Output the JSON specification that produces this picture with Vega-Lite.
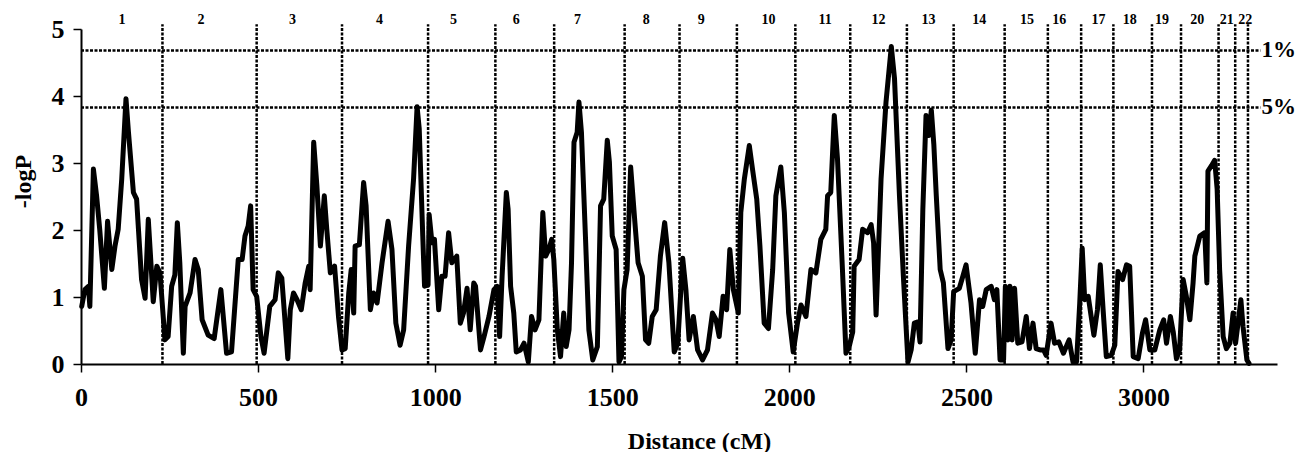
{
  "$schema": "https://vega.github.io/schema/vega-lite/v6.json",
  "width": 1196,
  "height": 335,
  "autosize": {"type": "none"},
  "padding": {"left": 81, "top": 29, "right": 21, "bottom": 88},
  "background": "white",
  "config": {"view": {"stroke": null}, "font": "Liberation Serif"},
  "datasets": {
    "curve": [
      {"cM":2,"logP":0.86},{"cM":11,"logP":1.11},{"cM":21,"logP":1.16},{"cM":25,"logP":0.86},{"cM":35,"logP":2.91},{"cM":44,"logP":2.51},{"cM":53,"logP":2.0},{"cM":66,"logP":1.13},{"cM":75,"logP":2.13},{"cM":87,"logP":1.41},{"cM":96,"logP":1.76},{"cM":105,"logP":2.01},{"cM":115,"logP":2.76},{"cM":127,"logP":3.96},{"cM":134,"logP":3.46},{"cM":148,"logP":2.56},{"cM":157,"logP":2.46},{"cM":171,"logP":1.26},{"cM":181,"logP":0.98},{"cM":190,"logP":2.16},{"cM":204,"logP":0.93},{"cM":214,"logP":1.46},{"cM":223,"logP":1.36},{"cM":237,"logP":0.36},{"cM":246,"logP":0.41},{"cM":256,"logP":1.16},{"cM":265,"logP":1.33},{"cM":272,"logP":2.11},{"cM":279,"logP":1.51},{"cM":289,"logP":0.16},{"cM":294,"logP":0.86},{"cM":308,"logP":1.06},{"cM":322,"logP":1.56},{"cM":331,"logP":1.41},{"cM":342,"logP":0.66},{"cM":359,"logP":0.43},{"cM":376,"logP":0.38},{"cM":395,"logP":1.11},{"cM":411,"logP":0.16},{"cM":425,"logP":0.18},{"cM":444,"logP":1.56},{"cM":455,"logP":1.56},{"cM":463,"logP":1.91},{"cM":472,"logP":2.06},{"cM":479,"logP":2.36},{"cM":486,"logP":1.11},{"cM":496,"logP":1.01},{"cM":508,"logP":0.41},{"cM":517,"logP":0.16},{"cM":533,"logP":0.86},{"cM":548,"logP":0.96},{"cM":557,"logP":1.36},
      {"cM":567,"logP":1.28},{"cM":584,"logP":0.08},{"cM":591,"logP":0.81},{"cM":600,"logP":1.06},{"cM":610,"logP":0.96},{"cM":622,"logP":0.81},{"cM":633,"logP":1.21},{"cM":643,"logP":1.46},{"cM":647,"logP":1.11},{"cM":657,"logP":3.31},{"cM":666,"logP":2.66},{"cM":676,"logP":1.76},{"cM":687,"logP":2.51},{"cM":694,"logP":2.01},{"cM":704,"logP":1.36},{"cM":716,"logP":1.46},{"cM":727,"logP":0.71},{"cM":737,"logP":0.21},{"cM":746,"logP":0.23},{"cM":756,"logP":1.06},{"cM":763,"logP":1.41},{"cM":770,"logP":0.76},{"cM":774,"logP":1.76},{"cM":786,"logP":1.78},{"cM":798,"logP":2.71},{"cM":805,"logP":2.36},{"cM":817,"logP":0.81},{"cM":826,"logP":1.06},{"cM":836,"logP":0.91},{"cM":850,"logP":1.51},{"cM":867,"logP":2.13},{"cM":878,"logP":1.71},{"cM":889,"logP":0.61},{"cM":901,"logP":0.28},{"cM":911,"logP":0.51},{"cM":925,"logP":1.76},{"cM":939,"logP":2.76},{"cM":949,"logP":3.84},{"cM":955,"logP":3.51},{"cM":965,"logP":1.91},{"cM":970,"logP":1.16},{"cM":980,"logP":1.18},{"cM":983,"logP":2.23},{"cM":991,"logP":1.81},{"cM":998,"logP":1.86},{"cM":1010,"logP":0.81},{"cM":1019,"logP":1.31},{"cM":1028,"logP":1.31},{"cM":1038,"logP":1.96},{"cM":1047,"logP":1.51},{"cM":1061,"logP":1.61},{"cM":1071,"logP":0.61},{"cM":1080,"logP":0.76},{"cM":1090,"logP":1.13},{"cM":1099,"logP":0.51},{"cM":1109,"logP":1.21},
      {"cM":1114,"logP":1.16},{"cM":1128,"logP":0.21},{"cM":1138,"logP":0.41},{"cM":1152,"logP":0.71},{"cM":1166,"logP":1.11},{"cM":1175,"logP":1.16},{"cM":1182,"logP":0.41},{"cM":1189,"logP":1.31},{"cM":1201,"logP":2.56},{"cM":1206,"logP":2.31},{"cM":1213,"logP":1.16},{"cM":1222,"logP":0.76},{"cM":1229,"logP":0.18},{"cM":1241,"logP":0.21},{"cM":1251,"logP":0.31},{"cM":1263,"logP":0.03},{"cM":1272,"logP":0.71},{"cM":1282,"logP":0.51},{"cM":1293,"logP":0.66},{"cM":1304,"logP":2.26},{"cM":1312,"logP":1.61},{"cM":1321,"logP":1.71},{"cM":1329,"logP":1.86},{"cM":1335,"logP":1.56},{"cM":1345,"logP":0.51},{"cM":1354,"logP":0.11},{"cM":1363,"logP":0.76},{"cM":1370,"logP":0.26},{"cM":1378,"logP":0.51},{"cM":1385,"logP":1.51},{"cM":1392,"logP":3.31},{"cM":1401,"logP":3.46},{"cM":1406,"logP":3.91},{"cM":1413,"logP":3.46},{"cM":1425,"logP":1.81},{"cM":1434,"logP":0.51},{"cM":1445,"logP":0.06},{"cM":1458,"logP":0.26},{"cM":1467,"logP":2.36},{"cM":1476,"logP":2.46},{"cM":1486,"logP":3.34},{"cM":1492,"logP":3.01},{"cM":1500,"logP":1.91},{"cM":1511,"logP":1.71},{"cM":1519,"logP":0.03},{"cM":1526,"logP":0.11},{"cM":1533,"logP":1.11},{"cM":1542,"logP":1.41},{"cM":1552,"logP":2.94},{"cM":1564,"logP":2.11},{"cM":1573,"logP":1.51},{"cM":1585,"logP":1.31},{"cM":1594,"logP":0.36},{"cM":1603,"logP":0.31},{"cM":1613,"logP":0.71},{"cM":1624,"logP":0.81},{"cM":1636,"logP":1.61},{"cM":1648,"logP":2.11},{"cM":1660,"logP":1.51},
      {"cM":1675,"logP":0.18},{"cM":1685,"logP":0.31},{"cM":1699,"logP":1.58},{"cM":1708,"logP":1.11},{"cM":1717,"logP":0.36},{"cM":1729,"logP":0.71},{"cM":1741,"logP":0.21},{"cM":1755,"logP":0.06},{"cM":1769,"logP":0.21},{"cM":1783,"logP":0.76},{"cM":1793,"logP":0.66},{"cM":1802,"logP":0.41},{"cM":1813,"logP":1.01},{"cM":1823,"logP":0.81},{"cM":1832,"logP":1.71},{"cM":1842,"logP":1.11},{"cM":1856,"logP":0.76},{"cM":1863,"logP":2.26},{"cM":1873,"logP":2.76},{"cM":1887,"logP":3.26},{"cM":1896,"logP":2.91},{"cM":1908,"logP":2.46},{"cM":1917,"logP":1.76},{"cM":1929,"logP":0.61},{"cM":1941,"logP":0.53},{"cM":1953,"logP":1.41},{"cM":1962,"logP":2.51},{"cM":1976,"logP":2.94},{"cM":1986,"logP":2.26},{"cM":1998,"logP":0.76},{"cM":2011,"logP":0.18},{"cM":2023,"logP":0.61},{"cM":2033,"logP":0.88},{"cM":2047,"logP":0.71},{"cM":2061,"logP":1.41},{"cM":2075,"logP":1.36},{"cM":2089,"logP":1.86},{"cM":2103,"logP":2.01},{"cM":2108,"logP":2.51},{"cM":2117,"logP":2.56},{"cM":2127,"logP":3.71},{"cM":2136,"logP":3.06},{"cM":2150,"logP":1.41},{"cM":2160,"logP":0.16},{"cM":2169,"logP":0.26},{"cM":2179,"logP":0.48},{"cM":2183,"logP":1.46},{"cM":2197,"logP":1.56},{"cM":2207,"logP":2.01},{"cM":2221,"logP":1.96},
      {"cM":2231,"logP":2.08},{"cM":2238,"logP":1.81},{"cM":2245,"logP":0.73},{"cM":2259,"logP":2.76},{"cM":2273,"logP":3.91},{"cM":2288,"logP":4.74},{"cM":2297,"logP":4.26},{"cM":2311,"logP":2.51},{"cM":2322,"logP":1.31},{"cM":2335,"logP":0.03},{"cM":2344,"logP":0.21},{"cM":2353,"logP":0.61},{"cM":2363,"logP":0.63},{"cM":2369,"logP":0.33},{"cM":2377,"logP":2.31},{"cM":2386,"logP":3.71},{"cM":2394,"logP":3.41},{"cM":2401,"logP":3.79},{"cM":2408,"logP":3.28},{"cM":2415,"logP":2.51},{"cM":2426,"logP":1.41},{"cM":2435,"logP":1.21},{"cM":2448,"logP":0.23},{"cM":2457,"logP":0.36},{"cM":2464,"logP":1.08},{"cM":2480,"logP":1.13},{"cM":2490,"logP":1.31},{"cM":2499,"logP":1.48},{"cM":2513,"logP":0.91},{"cM":2525,"logP":0.16},{"cM":2537,"logP":0.96},{"cM":2546,"logP":0.86},{"cM":2556,"logP":1.11},{"cM":2570,"logP":1.16},{"cM":2579,"logP":0.96},{"cM":2586,"logP":1.11},{"cM":2595,"logP":0.06},{"cM":2605,"logP":0.06},{"cM":2610,"logP":1.16},{"cM":2617,"logP":0.36},{"cM":2623,"logP":1.16},{"cM":2629,"logP":0.36},{"cM":2636,"logP":1.13},{"cM":2645,"logP":0.31},{"cM":2657,"logP":0.33},{"cM":2669,"logP":0.71},{"cM":2678,"logP":0.23},{"cM":2688,"logP":0.61},{"cM":2697,"logP":0.23},{"cM":2708,"logP":0.21},{"cM":2718,"logP":0.21},{"cM":2725,"logP":0.13},{"cM":2739,"logP":0.61},{"cM":2749,"logP":0.31},{"cM":2761,"logP":0.33},{"cM":2774,"logP":0.16},
      {"cM":2790,"logP":0.36},{"cM":2801,"logP":0.03},{"cM":2811,"logP":0.03},{"cM":2820,"logP":0.91},{"cM":2827,"logP":1.73},{"cM":2834,"logP":0.96},{"cM":2844,"logP":1.01},{"cM":2860,"logP":0.43},{"cM":2870,"logP":0.81},{"cM":2878,"logP":1.48},{"cM":2886,"logP":0.81},{"cM":2895,"logP":0.11},{"cM":2909,"logP":0.13},{"cM":2919,"logP":0.28},{"cM":2928,"logP":1.38},{"cM":2941,"logP":1.26},{"cM":2952,"logP":1.48},{"cM":2961,"logP":1.46},{"cM":2971,"logP":0.11},{"cM":2985,"logP":0.08},{"cM":2997,"logP":0.46},{"cM":3006,"logP":0.66},{"cM":3018,"logP":0.21},{"cM":3032,"logP":0.21},{"cM":3046,"logP":0.51},{"cM":3057,"logP":0.66},{"cM":3065,"logP":0.31},{"cM":3076,"logP":0.71},{"cM":3084,"logP":0.48},{"cM":3093,"logP":0.08},{"cM":3102,"logP":0.21},{"cM":3112,"logP":1.26},{"cM":3121,"logP":1.01},{"cM":3131,"logP":0.66},{"cM":3140,"logP":1.21},{"cM":3145,"logP":1.61},{"cM":3159,"logP":1.91},{"cM":3173,"logP":1.96},{"cM":3179,"logP":1.21},{"cM":3182,"logP":2.88},{"cM":3192,"logP":2.96},{"cM":3201,"logP":3.04},{"cM":3208,"logP":2.61},{"cM":3215,"logP":1.41},{"cM":3225,"logP":0.41},{"cM":3234,"logP":0.23},{"cM":3244,"logP":0.31},{"cM":3253,"logP":0.76},{"cM":3260,"logP":0.31},{"cM":3267,"logP":0.61},{"cM":3275,"logP":0.96},{"cM":3281,"logP":0.56},{"cM":3292,"logP":0.06},{"cM":3298,"logP":0.01}
    ],
    "bounds": [
      {"cM":230},{"cM":496},{"cM":737},{"cM":980},{"cM":1170},{"cM":1336},{"cM":1535},{"cM":1690},{"cM":1852},{"cM":2017},{"cM":2172},{"cM":2332},{"cM":2464},{"cM":2608},{"cM":2730},{"cM":2824},{"cM":2915},{"cM":3024},{"cM":3106},{"cM":3212},{"cM":3259},{"cM":3295}
    ],
    "chroms": [
      {"cM":116,"chr":"1"},{"cM":339,"chr":"2"},{"cM":597,"chr":"3"},{"cM":843,"chr":"4"},{"cM":1052,"chr":"5"},{"cM":1229,"chr":"6"},{"cM":1402,"chr":"7"},{"cM":1596,"chr":"8"},{"cM":1751,"chr":"9"},{"cM":1941,"chr":"10"},{"cM":2101,"chr":"11"},{"cM":2252,"chr":"12"},{"cM":2393,"chr":"13"},{"cM":2536,"chr":"14"},{"cM":2671,"chr":"15"},{"cM":2762,"chr":"16"},{"cM":2873,"chr":"17"},{"cM":2961,"chr":"18"},{"cM":3052,"chr":"19"},{"cM":3152,"chr":"20"},{"cM":3235,"chr":"21"},{"cM":3287,"chr":"22"}
    ],
    "thresholds": [
      {"logP":4.68,"label":"1%"},{"logP":3.83,"label":"5%"}
    ]
  },
  "layer": [
    {
      "data": {"name": "bounds"},
      "mark": {"type": "rule", "color": "black", "strokeWidth": 2.5, "strokeDash": [3, 1.5]},
      "encoding": {
        "x": {"field": "cM", "type": "quantitative", "title": "Distance (cM)", "scale": {"domain": [0, 3377], "nice": false}},
        "y": {"datum": 0, "type": "quantitative", "title": "-logP", "scale": {"domain": [0, 5], "nice": false}},
        "y2": {"datum": 5.07}
      }
    },
    {
      "data": {"name": "thresholds"},
      "mark": {"type": "rule", "color": "black", "strokeWidth": 2.5, "strokeDash": [3, 1.5]},
      "encoding": {
        "y": {"field": "logP", "type": "quantitative", "title": "-logP"},
        "x": {"datum": 0, "type": "quantitative", "title": "Distance (cM)"},
        "x2": {"datum": 3330}
      }
    },
    {
      "data": {"name": "curve"},
      "mark": {"type": "line", "color": "black", "strokeWidth": 5, "strokeJoin": "round", "strokeCap": "round"},
      "encoding": {
        "x": {
          "field": "cM", "type": "quantitative", "title": "Distance (cM)",
          "axis": {
            "values": [0, 500, 1000, 1500, 2000, 2500, 3000],
            "format": "d",
            "grid": false,
            "domainColor": "black", "domainWidth": 2,
            "tickColor": "black", "tickWidth": 1.5, "tickSize": 8,
            "labelFont": "Liberation Serif", "labelFontSize": 26, "labelFontWeight": "bold", "labelColor": "black", "labelPadding": 12, "labelFlush": false,
            "titleFont": "Liberation Serif", "titleFontSize": 24, "titleFontWeight": "bold", "titleColor": "black",
            "titleX": 618, "titleY": 84, "titleBaseline": "alphabetic", "titleAlign": "center"
          }
        },
        "y": {
          "field": "logP", "type": "quantitative", "title": "-logP",
          "axis": {
            "values": [0, 1, 2, 3, 4, 5],
            "format": "d",
            "grid": false,
            "domainColor": "black", "domainWidth": 2,
            "tickColor": "black", "tickWidth": 1.5, "tickSize": 8,
            "labelFont": "Liberation Serif", "labelFontSize": 26, "labelFontWeight": "bold", "labelColor": "black", "labelPadding": 9,
            "titleFont": "Liberation Serif", "titleFontSize": 24, "titleFontWeight": "bold", "titleColor": "black",
            "titleAngle": -90, "titleX": -58, "titleY": 152, "titleAlign": "center", "titleBaseline": "middle"
          }
        }
      }
    },
    {
      "data": {"name": "chroms"},
      "mark": {"type": "text", "fontSize": 14, "fontWeight": "bold", "font": "Liberation Serif", "color": "black", "align": "center", "baseline": "middle"},
      "encoding": {
        "x": {"field": "cM", "type": "quantitative", "title": "Distance (cM)"},
        "y": {"datum": 5.13, "type": "quantitative", "title": "-logP"},
        "text": {"field": "chr"}
      }
    },
    {
      "data": {"name": "thresholds"},
      "mark": {"type": "text", "fontSize": 23, "fontWeight": "bold", "font": "Liberation Serif", "color": "black", "align": "left", "baseline": "middle"},
      "encoding": {
        "x": {"datum": 3333, "type": "quantitative", "title": "Distance (cM)"},
        "y": {"field": "logP", "type": "quantitative", "title": "-logP"},
        "text": {"field": "label"}
      }
    }
  ]
}
